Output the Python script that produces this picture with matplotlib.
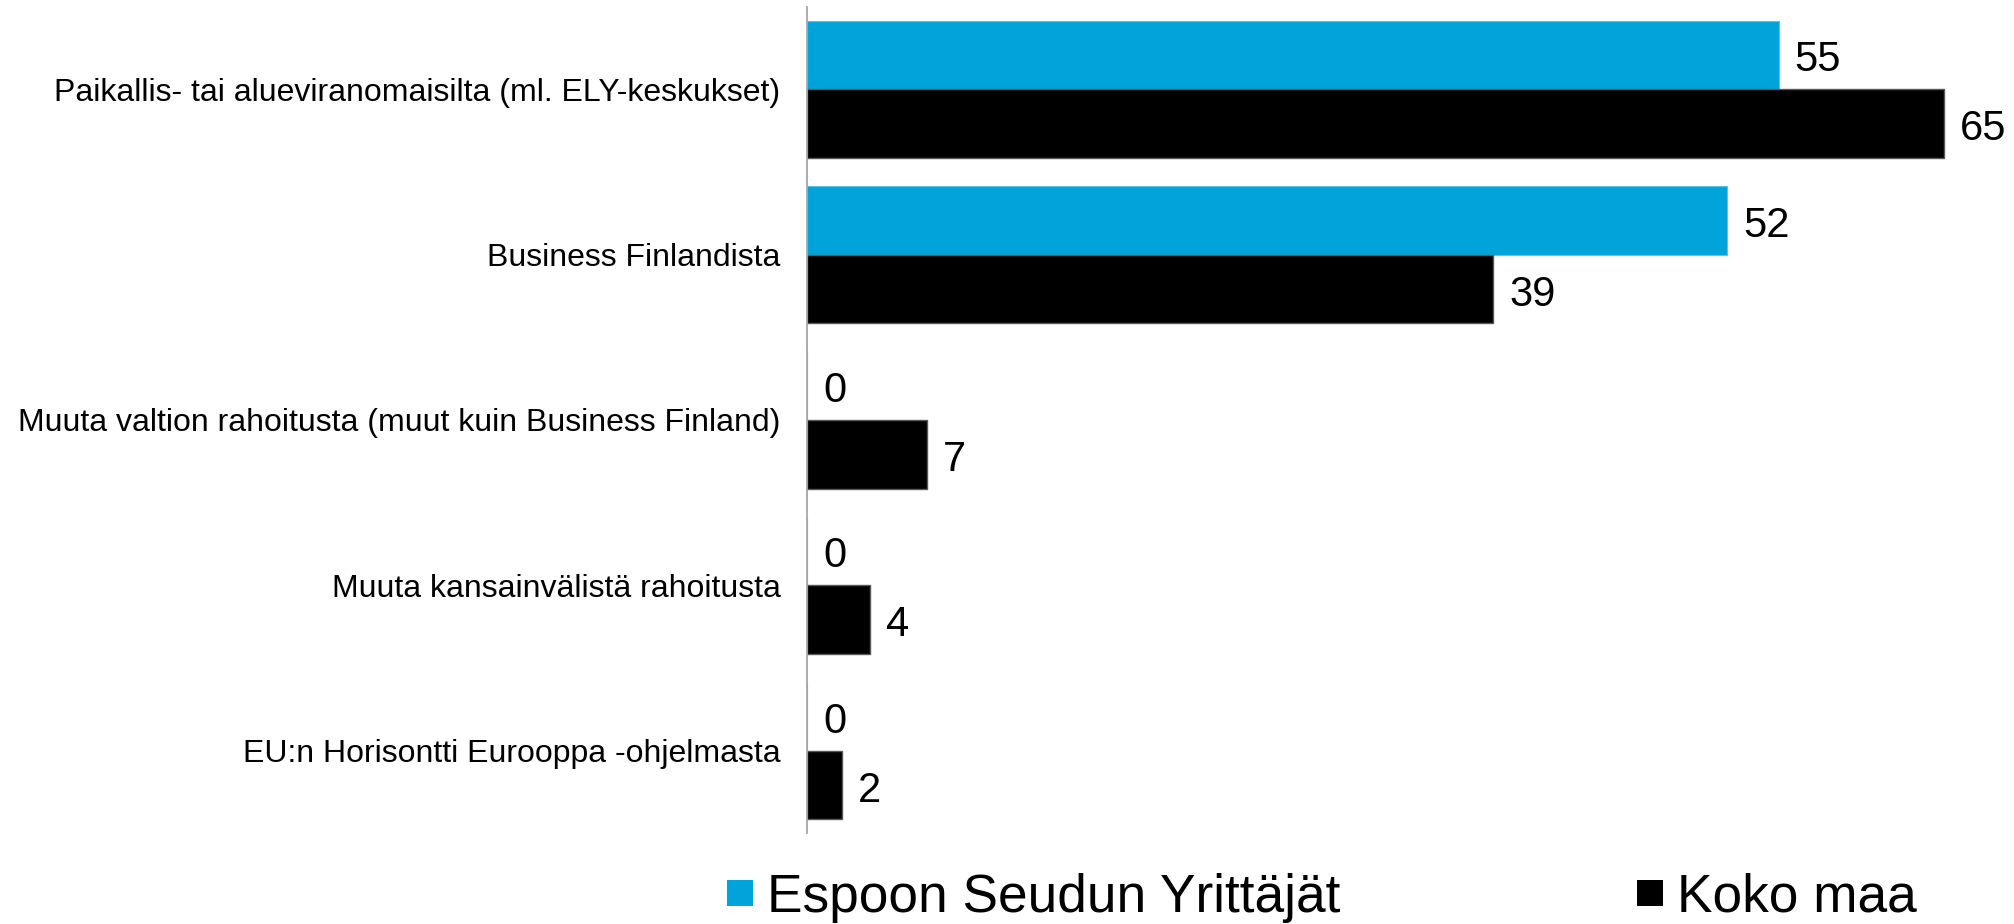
import matplotlib
matplotlib.use('Agg')
import matplotlib.pyplot as plt
from matplotlib.patches import Patch
import numpy as np

plt.rcParams['font.family'] = ['Liberation Sans', 'DejaVu Sans']

categories = [
    'Paikallis- tai alueviranomaisilta (ml. ELY-keskukset)',
    'Business Finlandista',
    'Muuta valtion rahoitusta (muut kuin Business Finland)',
    'Muuta kansainvälistä rahoitusta',
    'EU:n Horisontti Eurooppa -ohjelmasta',
]
espoo = [55.2, 52.3, 0, 0, 0]
koko_maa = [64.6, 39.0, 6.8, 3.6, 2.0]
series_names = ['Espoon Seudun Yrittäjät', 'Koko maa']

BLUE = '#00a3da'
BLACK = '#000000'
AXIS = '#a6a6a6'

fig = plt.figure(figsize=(20.14, 9.24), dpi=100)
ax = fig.add_axes([807 / 2014, 1 - 833.3 / 924, 1 - 807 / 2014, (833.3 - 6.6) / 924])

y = np.arange(len(categories))
h = 0.4155
ax.barh(y - h / 2, espoo, height=h, color=BLUE, edgecolor='#5cc3e6', linewidth=0.8)
ax.barh(y + h / 2, koko_maa, height=h, color=BLACK, edgecolor='#595959', linewidth=1.0)

# value labels, rounded like the source
for i, v in enumerate(espoo):
    ax.annotate(f'{v:.0f}', (v, i - h / 2), xytext=(11.5, -4), textcoords='offset points',
                fontsize=30, va='center', ha='left')
for i, v in enumerate(koko_maa):
    ax.annotate(f'{v:.0f}', (v, i + h / 2), xytext=(11.5, -4), textcoords='offset points',
                fontsize=30, va='center', ha='left')

ax.set_xlim(0, (2014 - 807) / 17.6)
ax.set_ylim(4.5, -0.5)
ax.set_yticks(y)
ax.set_yticklabels(categories, fontsize=23.0)
ax.set_xticks([])
ax.tick_params(axis='y', length=0, pad=19)
for side in ('top', 'right', 'bottom'):
    ax.spines[side].set_visible(False)
ax.spines['left'].set_color(AXIS)
ax.spines['left'].set_linewidth(1.3)

handles = [Patch(facecolor=BLUE, edgecolor='none'), Patch(facecolor=BLACK, edgecolor='none')]
fig.legend(handles, series_names, loc='center left',
           bbox_to_anchor=(727 / 2014, 1 - 898 / 924), ncol=2, frameon=False,
           fontsize=38.3, handlelength=0.49, handleheight=0.38, handletextpad=0.26,
           columnspacing=5.58, borderpad=0, borderaxespad=0)

fig.savefig('out.png', dpi=100, facecolor='white')
